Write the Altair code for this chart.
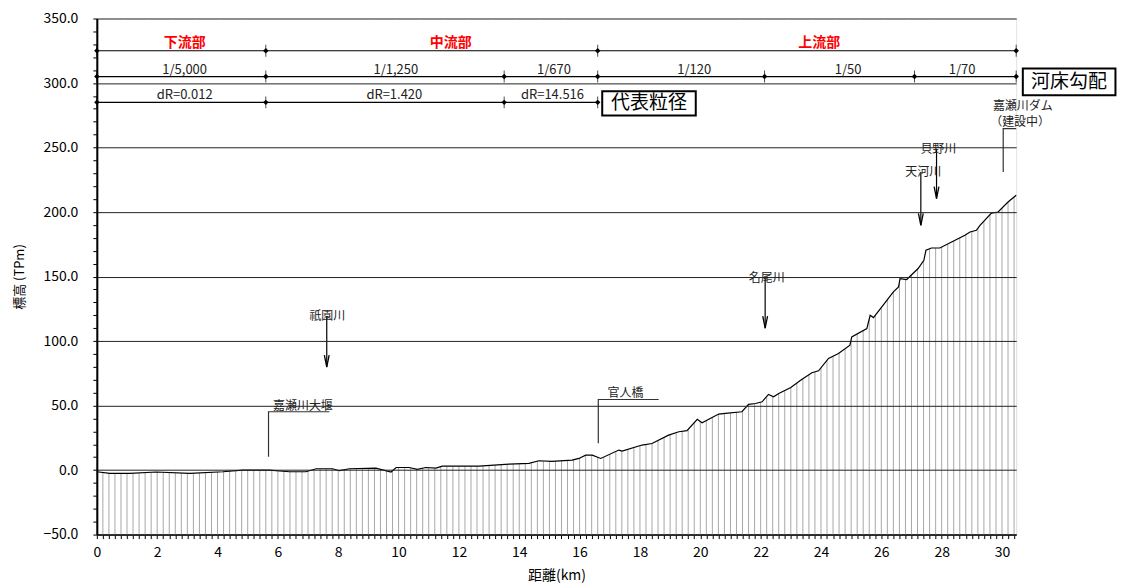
import altair as alt
import pandas as pd

FONT = "Noto Sans CJK JP"

# ---- longitudinal bed profile (distance km, elevation TPm) ----
dist = [0.0, 0.43, 1.09, 1.97, 3.08, 4.18, 4.83, 5.72, 6.38, 6.93,
        7.27, 7.81, 8.04, 8.37, 9.25, 9.75, 9.92, 10.35, 10.62, 10.9,
        11.24, 11.45, 11.9, 12.67, 13.66, 14.32, 14.65, 15.08, 15.75, 15.98,
        16.2, 16.42, 16.7, 17.3, 17.41, 18.07, 18.4, 18.95, 19.29, 19.56,
        19.9, 20.06, 20.61, 20.83, 21.38, 21.6, 21.83, 22.05, 22.26, 22.43,
        22.6, 23.0, 23.36, 23.7, 23.92, 24.25, 24.58, 24.96, 25.02, 25.52,
        25.63, 25.74, 26.4, 26.57, 26.62, 26.84, 27.22, 27.41, 27.48, 27.66,
        27.94, 28.33, 28.77, 28.94, 29.15, 29.27, 29.65, 29.87, 30.2, 30.47]
elev = [-1.3, -2.6, -2.6, -1.5, -2.6, -1.3, 0.0, 0.0, -1.3, -1.3,
        1.0, 1.0, -0.5, 1.0, 1.5, -1.5, 2.0, 2.0, 0.5, 2.0,
        1.5, 3.0, 3.0, 3.1, 4.6, 5.2, 7.2, 6.7, 7.7, 9.0,
        11.6, 11.6, 9.0, 15.5, 14.7, 19.4, 20.6, 27.1, 29.7, 30.5,
        39.3, 36.6, 43.4, 43.9, 45.2, 50.9, 51.6, 52.9, 58.6, 56.8,
        59.4, 64.0, 70.2, 75.4, 76.9, 86.5, 90.3, 96.8, 103.2, 109.7,
        120.0, 118.2, 138.1, 141.9, 148.4, 147.7, 156.2, 162.6, 170.4, 172.1,
        172.1, 176.8, 182.0, 184.5, 185.8, 189.7, 199.2, 200.0, 207.8, 213.0]

# cross-section stations (every 200 m)
stations = [round(i * 0.2, 1) for i in range(153)]

X_MAX = 30.47
Y_MIN, Y_MAX = -50, 350

# ---- upper table rows ----
row_y = [325, 305, 285]
row_x_end = [30.47, 30.47, 16.6]
break_325 = [0, 5.6, 16.6, 30.47]
break_305 = [0, 5.6, 13.5, 16.6, 22.13, 27.1, 30.47]
break_285 = [0, 5.6, 13.5, 16.6]

reach_labels = ["下流部", "中流部", "上流部"]
reach_x = [2.91, 11.73, 23.94]
reach_y = [330.9, 330.9, 330.9]

slope_labels = ["1/5,000", "1/1,250", "1/670", "1/120", "1/50", "1/70"]
slope_x = [2.91, 9.91, 15.15, 19.8, 24.9, 28.68]
slope_y = [310.3] * 6

dr_labels = ["dR=0.012", "dR=1.420", "dR=14.516"]
dr_x = [2.91, 9.86, 15.1]
dr_y = [290.4] * 3

box_labels = ["河床勾配", "代表粒径"]
box_x1 = [30.69, 16.75]
box_x2 = [33.76, 19.85]
box_y1 = [290.6, 274.9]
box_y2 = [311.3, 293.7]
box_tx = [32.22, 18.3]
box_ty = [301.0, 284.3]

# ---- tributary arrows ----
arrow_names = ["祇園川", "名尾川", "天河川", "貝野川"]
arrow_x = [7.62, 22.15, 27.31, 27.83]
arrow_text_x = [7.64, 22.2, 27.39, 27.89]
arrow_text_y = [119.2, 148.7, 230.8, 249.0]
arrow_tip_y = [79.8, 110.0, 189.7, 210.4]

# ---- leader-line annotations ----
leader_names = ["嘉瀬川大堰", "官人橋", "嘉瀬川ダム"]
leader_xs = [[5.69, 5.69, 7.71], [16.62, 16.62, 18.62], [30.04, 30.04, 30.47]]
leader_ys = [[10.3, 45.2, 45.2], [20.7, 54.7, 54.7], [231.0, 264.6, 264.6]]
leader_text = ["嘉瀬川大堰", "官人橋", "嘉瀬川ダム", "（建設中）"]
leader_text_x = [6.83, 17.52, 30.69, 30.6]
leader_text_y = [49.6, 59.4, 282.5, 270.0]

# ---------------- build tables ----------------
profile = pd.DataFrame({"x": dist, "y": elev, "top": [Y_MAX] * len(dist)})
sec = pd.DataFrame({"x": stations, "y": [Y_MIN] * len(stations), "y2": [Y_MAX] * len(stations)})
rows = pd.DataFrame({"x": [0] * 3, "x2": row_x_end, "y": row_y})
marks = pd.DataFrame({
    "x": break_325 + break_305 + break_285,
    "y": [325] * len(break_325) + [305] * len(break_305) + [285] * len(break_285),
})
reach = pd.DataFrame({"t": reach_labels, "x": reach_x, "y": reach_y})
slope = pd.DataFrame({"t": slope_labels + dr_labels, "x": slope_x + dr_x, "y": slope_y + dr_y})
boxes = pd.DataFrame({"t": box_labels, "x": box_x1, "x2": box_x2, "y": box_y1, "y2": box_y2,
                      "tx": box_tx, "ty": box_ty})
arrows = pd.DataFrame({"t": arrow_names, "x": arrow_x, "tx": arrow_text_x,
                       "ty": arrow_text_y, "tip": arrow_tip_y})
lrows = []
for n, xs, ys in zip(leader_names, leader_xs, leader_ys):
    for i, (a, b) in enumerate(zip(xs, ys)):
        lrows.append({"id": n, "o": i, "x": a, "y": b})
leaders = pd.DataFrame(lrows)
ltext = pd.DataFrame({"t": leader_text, "x": leader_text_x, "y": leader_text_y})

# ---------------- scales / axes ----------------
xscale = alt.Scale(domain=[0, X_MAX], nice=False, zero=False)
yscale = alt.Scale(domain=[Y_MIN, Y_MAX], nice=False, zero=False)

xaxis = alt.Axis(
    title="距離(km)", values=stations,
    labelExpr="abs(datum.value/2 - round(datum.value/2)) < 0.001 ? format(datum.value, 'd') : ''",
    grid=False, tickSize=4, tickColor="black", domainColor="black", domainWidth=1.5,
    labelFont=FONT, labelFontSize=14, labelColor="black", labelFlush=False, labelOverlap=False,
    labelPadding=7, titleFont=FONT, titleFontSize=14, titleFontWeight="normal",
    titleColor="black", titlePadding=9,
)
yaxis = alt.Axis(
    title="標高 (TPm)", values=list(range(-50, 351, 10)),
    labelExpr="datum.value % 50 === 0 ? format(datum.value, '.1f') : ''",
    gridOpacity={"condition": {"test": "datum.value % 50 === 0", "value": 1}, "value": 0},
    grid=True, gridColor="#222222", gridWidth=1,
    tickSize=4, tickColor="black", domainColor="black", domainWidth=2,
    labelFont=FONT, labelFontSize=14, labelColor="black", labelOverlap=False, labelPadding=15,
    titleFont=FONT, titleFontSize=13, titleFontWeight="normal", titleColor="black",
    titlePadding=17, zindex=1,
)


def X(f):
    return alt.X(f, type="quantitative", scale=xscale, axis=xaxis)


def Y(f):
    return alt.Y(f, type="quantitative", scale=yscale, axis=yaxis)


sections = alt.Chart(sec).mark_rule(color="#a8a8a8", strokeWidth=1).encode(
    x=X("x"), y=Y("y"), y2="y2")
mask = alt.Chart(profile).mark_area(color="white", opacity=1).encode(
    x=X("x"), y=Y("y"), y2="top")
line = alt.Chart(profile).mark_line(color="black", strokeWidth=1.2).encode(
    x=X("x"), y=Y("y"))

row_lines = alt.Chart(rows).mark_rule(color="black", strokeWidth=1.2).encode(
    x=X("x"), x2="x2", y=Y("y"))
diamonds = alt.Chart(marks).mark_point(shape="diamond", filled=True, color="black", size=30, opacity=1).encode(
    x=X("x"), y=Y("y"))
vticks = alt.Chart(marks).mark_tick(orient="vertical", color="black", thickness=1, size=12).encode(
    x=X("x"), y=Y("y"))

reach_text = alt.Chart(reach).mark_text(font=FONT, fontSize=14, color="#ff0000", fontWeight="bold").encode(
    x=X("x"), y=Y("y"), text="t")
slope_text = alt.Chart(slope).mark_text(font=FONT, fontSize=13, color="#222222").encode(
    x=X("x"), y=Y("y"), text="t")

box_rect = alt.Chart(boxes).mark_rect(fill="white", stroke="black", strokeWidth=2).encode(
    x=X("x"), x2="x2", y=Y("y"), y2="y2")
box_text = alt.Chart(boxes).mark_text(font=FONT, fontSize=19, color="black").encode(
    x=X("tx"), y=Y("ty"), text="t")

arrow_shaft = alt.Chart(arrows).mark_rule(color="black", strokeWidth=1.2).encode(
    x=X("x"), y=Y("ty"), y2="tip")
arrow_head = alt.Chart(arrows).mark_point(
    shape="M-0.2,-1L0,0L0.2,-1", filled=False, color="black", strokeWidth=1.3, size=576, opacity=1
).encode(x=X("x"), y=Y("tip"))
arrow_text = alt.Chart(arrows).mark_text(font=FONT, fontSize=12, color="#222222").encode(
    x=X("tx"), y=Y("ty"), text="t")

leader_lines = alt.Chart(leaders).mark_line(color="#333333", strokeWidth=1.2).encode(
    x=X("x"), y=Y("y"), detail="id:N", order="o:Q")
leader_text_m = alt.Chart(ltext).mark_text(font=FONT, fontSize=12, color="#222222").encode(
    x=X("x"), y=Y("y"), text="t")

chart = alt.layer(
    sections, mask, line, row_lines, diamonds, vticks, reach_text, slope_text,
    arrow_shaft, arrow_head, arrow_text, leader_lines, leader_text_m, box_rect, box_text,
).properties(
    width=921, height=517,
    padding={"left": 5, "top": 3, "right": 2, "bottom": 5},
).configure_view(stroke="black", strokeWidth=1.2).configure(background="white")

chart.save("out.html", embed_options={"renderer": "svg", "actions": False})
